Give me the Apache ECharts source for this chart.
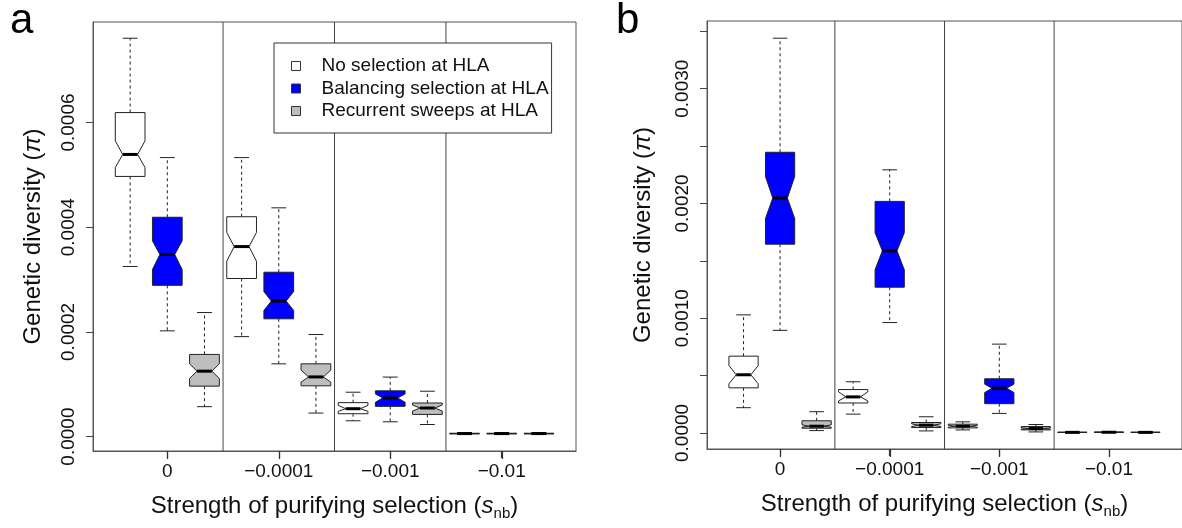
<!DOCTYPE html>
<html>
<head>
<meta charset="utf-8">
<script src="https://cdn.jsdelivr.net/npm/echarts@6/dist/echarts.min.js"></script>
<style>
  html, body { margin: 0; padding: 0; background: #fff; }
  #main { width: 1182px; height: 528px; }
</style>
</head>
<body>
<div id="main"></div>
<script>
// Gruppen und Szenarien
var groups = ['0', '\u22120.0001', '\u22120.001', '\u22120.01'];
var scenarios = ['No selection at HLA', 'Balancing selection at HLA', 'Recurrent sweeps at HLA'];
var scenarioColors = ['#ffffff', '#0000ff', '#bebebe'];

// Panel a: Reihenfolge je Gruppe: keine, balancierend, Sweeps
var aLow     = [0.000325, 0.000202, 0.0000572, 0.000191, 0.000139, 0.0000450, 0.0000302, 0.0000283, 0.0000231, 0.0000045, 0.0000045, 0.0000045];
var aQ1      = [0.000497, 0.000289, 0.0000964, 0.000302, 0.000225, 0.0000970, 0.0000437, 0.0000578, 0.0000424, 0.0000052, 0.0000052, 0.0000052];
var aNotchLo = [0.000514, 0.000319, 0.000111, 0.000335, 0.000241, 0.000104, 0.0000482, 0.0000655, 0.0000488, 0.0000055, 0.0000055, 0.0000055];
var aMed     = [0.000539, 0.000348, 0.000125, 0.000363, 0.000259, 0.000114, 0.0000533, 0.0000739, 0.0000546, 0.0000058, 0.0000058, 0.0000058];
var aNotchHi = [0.000565, 0.000374, 0.000139, 0.000390, 0.000277, 0.000127, 0.0000597, 0.0000816, 0.0000604, 0.0000061, 0.0000061, 0.0000061];
var aQ3      = [0.000619, 0.000419, 0.000157, 0.000420, 0.000314, 0.000139, 0.0000649, 0.0000874, 0.0000642, 0.0000064, 0.0000064, 0.0000064];
var aHigh    = [0.000761, 0.000533, 0.000237, 0.000533, 0.000437, 0.000195, 0.0000848, 0.0001137, 0.0000867, 0.0000072, 0.0000072, 0.0000072];

// Panel b
var bLow     = [0.000220, 0.000894, 0.0000205, 0.000164, 0.000962, 0.0000176, 0.0000264, 0.000170, 0.0000088, 0.000002, 0.000003, 0.000002];
var bQ1      = [0.000393, 0.001645, 0.0000410, 0.000261, 0.001270, 0.0000469, 0.0000440, 0.000255, 0.0000264, 0.000004, 0.000005, 0.000004];
var bNotchLo = [0.000428, 0.001868, 0.0000500, 0.000279, 0.001422, 0.0000557, 0.0000500, 0.000352, 0.0000320, 0.0000045, 0.0000055, 0.0000045];
var bMed     = [0.000507, 0.002047, 0.0000587, 0.000314, 0.001587, 0.0000674, 0.0000587, 0.000390, 0.0000381, 0.000005, 0.000006, 0.000005];
var bNotchHi = [0.000587, 0.002235, 0.0000700, 0.000358, 0.001745, 0.0000792, 0.0000675, 0.000425, 0.0000440, 0.0000055, 0.0000065, 0.0000055];
var bQ3      = [0.000669, 0.002446, 0.000106, 0.000378, 0.002018, 0.0000909, 0.0000762, 0.000472, 0.0000557, 0.000006, 0.000007, 0.000006];
var bHigh    = [0.001029, 0.003440, 0.000185, 0.000446, 0.002293, 0.000141, 0.0000968, 0.000774, 0.0000733, 0.000008, 0.000009, 0.000008];

// Achsenticks
var xTicks = [2, 5, 8, 11];
var dividers = [3.5, 6.5, 9.5];
var yTicksA = [0, 0.0002, 0.0004, 0.0006];
var yTicksB = [0, 0.0005, 0.001, 0.0015, 0.002, 0.0025, 0.003, 0.0035];
var yLabelsB = [0, 0.001, 0.002, 0.003];

var FONT = 'Liberation Sans, Arial, sans-serif';

var panels = [
  { low: aLow, q1: aQ1, nlo: aNotchLo, med: aMed, nhi: aNotchHi, q3: aQ3, high: aHigh },
  { low: bLow, q1: bQ1, nlo: bNotchLo, med: bMed, nhi: bNotchHi, q3: bQ3, high: bHigh }
];

function boxData(p, s) {
  var d = panels[p];
  return groups.map(function (g, gi) {
    var i = gi * 3 + s;
    return [i + 1, d.low[i], d.q1[i], d.nlo[i], d.med[i], d.nhi[i], d.q3[i], d.high[i]];
  });
}

// Gekerbter Boxplot wie in R
function renderBox(params, api) {
  var x = api.value(0);
  var unit = api.size([1, 0])[0];
  var hw = unit * 0.4, nw = unit * 0.2, cw = unit * 0.2;
  var cx = api.coord([x, 0])[0];
  var y = function (i) { return api.coord([x, api.value(i)])[1]; };
  var yLo = y(1), yQ1 = y(2), yNL = y(3), yMd = y(4), yNH = y(5), yQ3 = y(6), yHi = y(7);
  var stroke = '#222';
  var dash = { stroke: stroke, lineWidth: 1, lineDash: [3, 3] };
  var solid = { stroke: stroke, lineWidth: 1 };
  return {
    type: 'group',
    children: [
      { type: 'line', shape: { x1: cx, y1: yQ3, x2: cx, y2: yHi }, style: dash },
      { type: 'line', shape: { x1: cx, y1: yQ1, x2: cx, y2: yLo }, style: dash },
      { type: 'line', shape: { x1: cx - cw, y1: yHi, x2: cx + cw, y2: yHi }, style: solid },
      { type: 'line', shape: { x1: cx - cw, y1: yLo, x2: cx + cw, y2: yLo }, style: solid },
      {
        type: 'polygon',
        shape: { points: [
          [cx - hw, yQ3], [cx + hw, yQ3], [cx + hw, yNH], [cx + nw, yMd], [cx + hw, yNL],
          [cx + hw, yQ1], [cx - hw, yQ1], [cx - hw, yNL], [cx - nw, yMd], [cx - hw, yNH]
        ] },
        style: { fill: api.visual('color'), stroke: stroke, lineWidth: 1 }
      },
      { type: 'line', shape: { x1: cx - nw, y1: yMd, x2: cx + nw, y2: yMd }, style: { stroke: '#000', lineWidth: 3 } }
    ]
  };
}

var richName = {
  n: { fontSize: 24, fontFamily: FONT, color: '#111', lineHeight: 30 },
  i: { fontSize: 24, fontFamily: FONT, color: '#111', fontStyle: 'italic', lineHeight: 30 },
  sub: { fontSize: 15, fontFamily: FONT, color: '#111', lineHeight: 15, verticalAlign: 'bottom' }
};

function xAxisFor(gi) {
  return {
    gridIndex: gi, type: 'value', min: 0, max: 13,
    axisLine: { show: true, onZero: false, lineStyle: { color: '#555', width: 1 } },
    splitLine: { show: false },
    axisTick: { show: true, customValues: xTicks, length: 7, lineStyle: { color: '#333', width: 1.2 } },
    axisLabel: {
      customValues: xTicks, margin: 11, fontSize: 19, color: '#111', fontFamily: FONT,
      formatter: function (v) { return groups[Math.round((v - 2) / 3)]; }
    },
    name: '{n|Strength of purifying selection (}{i|s}{sub|nb}{n|)}',
    nameLocation: 'middle', nameGap: 40,
    nameTextStyle: { rich: richName }
  };
}

function yAxisFor(gi, min, max, ticks, labels, gap) {
  return {
    gridIndex: gi, type: 'value', min: min, max: max,
    axisLine: { show: true, onZero: false, lineStyle: { color: '#555', width: 1 } },
    splitLine: { show: false },
    axisTick: { customValues: ticks, length: 7, lineStyle: { color: '#444' } },
    axisLabel: {
      customValues: labels, rotate: 90, margin: 15, fontSize: 19, color: '#111', fontFamily: FONT,
      formatter: function (v) { return v.toFixed(4); }
    },
    name: '{n|Genetic diversity (}{i|\u03c0}{n|)}',
    nameLocation: 'middle', nameRotate: 90, nameGap: gap,
    nameTextStyle: { rich: richName }
  };
}

var series = [];
[0, 1].forEach(function (p) {
  scenarios.forEach(function (name, s) {
    series.push({
      type: 'custom', name: name, xAxisIndex: p, yAxisIndex: p,
      itemStyle: { color: scenarioColors[s], borderColor: '#222', borderWidth: 1 },
      encode: { x: 0, y: [1, 2, 3, 4, 5, 6, 7] },
      renderItem: renderBox,
      data: boxData(p, s),
      silent: true
    });
  });
});

// Trennlinien zwischen den Gruppen und Striche unter der x-Achse
[0, 1].forEach(function (p) {
  series.push({
    type: 'custom', xAxisIndex: p, yAxisIndex: p, silent: true,
    data: dividers.map(function (v) { return [v]; }),
    encode: { x: 0 },
    renderItem: function (params, api) {
      var cs = params.coordSys;
      var x = api.coord([api.value(0), 0])[0];
      return { type: 'line', shape: { x1: x, y1: cs.y, x2: x, y2: cs.y + cs.height }, style: { stroke: '#444', lineWidth: 1 } };
    }
  });
  series.push({
    type: 'custom', xAxisIndex: p, yAxisIndex: p, silent: true, clip: false, z: 100,
    data: xTicks.map(function (v) { return [v]; }),
    encode: { x: 0 },
    renderItem: function (params, api) {
      var cs = params.coordSys;
      var x = Math.round(api.coord([api.value(0), 0])[0]) + 0.5;
      var yb = cs.y + cs.height;
      return { type: 'line', z2: 100, shape: { x1: x, y1: yb, x2: x, y2: yb + 8 }, style: { stroke: '#333', lineWidth: 1.2 } };
    }
  });
});

var myChart = echarts.init(document.getElementById('main'));

var option = {
  backgroundColor: '#fff',
  animation: false,
  grid: [
    { left: 93, top: 22, width: 483, height: 429, show: true, borderColor: '#555', borderWidth: 1 },
    { left: 707, top: 21, width: 481, height: 428, show: true, borderColor: '#555', borderWidth: 1 }
  ],
  xAxis: [xAxisFor(0), xAxisFor(1)],
  yAxis: [
    yAxisFor(0, -0.0000275, 0.000792, yTicksA, yTicksA, 45),
    yAxisFor(1, -0.00014, 0.00359, yTicksB, yLabelsB, 49)
  ],
  legend: {
    data: scenarios, orient: 'vertical', left: 274, top: 43, z: 10,
    padding: [12, 3, 11, 17], itemGap: 0.5, itemWidth: 9, itemHeight: 9, icon: 'rect',
    selectedMode: false,
    backgroundColor: '#fff', borderColor: '#333', borderWidth: 1, borderRadius: 0,
    itemStyle: { borderColor: '#333', borderWidth: 1 },
    textStyle: { fontSize: 19, fontFamily: FONT, color: '#111', lineHeight: 22, padding: [0, 0, 0, 16] }
  },
  graphic: [
    { type: 'text', left: 10, top: 0, style: { text: 'a', font: '42px ' + FONT, fill: '#000' } },
    { type: 'text', left: 616, top: 0, style: { text: 'b', font: '42px ' + FONT, fill: '#000' } }
  ],
  series: series
};

myChart.setOption(option);
</script>
</body>
</html>
